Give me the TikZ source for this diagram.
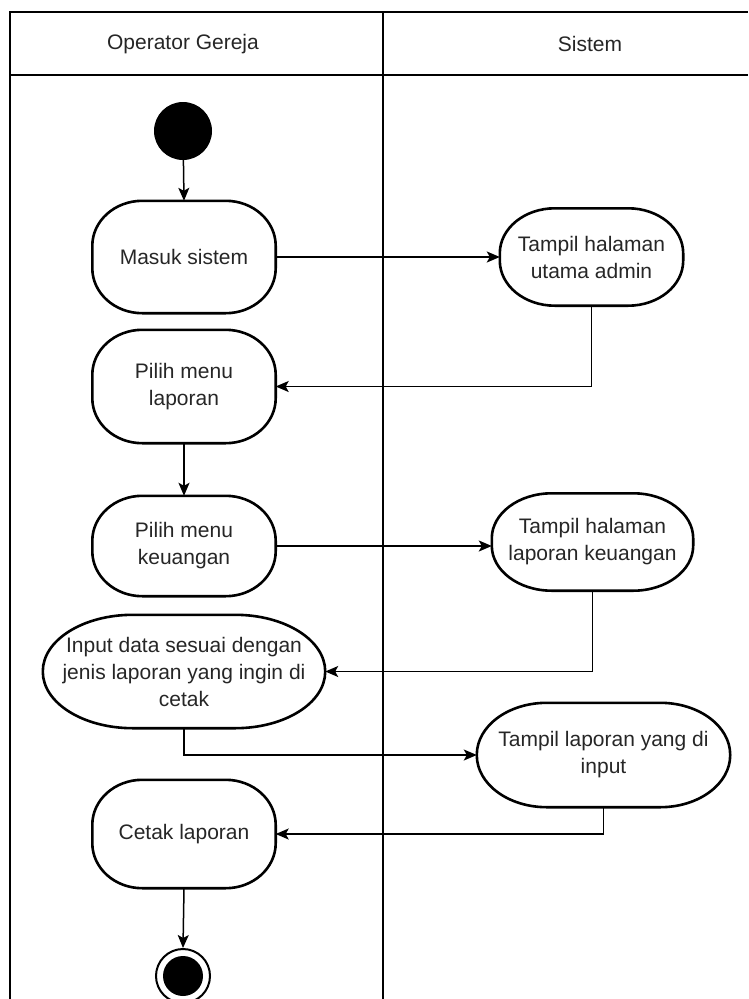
\documentclass[tikz,border=0pt]{standalone}
\usepackage{fontspec}
\setmainfont{Liberation Sans}
\usetikzlibrary{arrows.meta,calc}
\definecolor{txt}{HTML}{262626}
\newcommand\actframe[3]{%
  \draw[actline] ($(#1.north west)+(#2,0)$) -- ($(#1.north east)-(#2,0)$)
    arc[start angle=90,end angle=0,x radius=#2,y radius=#3]
    -- ($(#1.south east)+(0,#3)$)
    arc[start angle=0,end angle=-90,x radius=#2,y radius=#3]
    -- ($(#1.south west)+(#2,0)$)
    arc[start angle=270,end angle=180,x radius=#2,y radius=#3]
    -- ($(#1.north west)-(0,#3)$)
    arc[start angle=180,end angle=90,x radius=#2,y radius=#3] -- cycle;}
\begin{document}
\begin{tikzpicture}[x=1pt,y=1pt,
  lane/.style={line width=1.6pt,draw=black},
  act/.style={inner sep=0pt,align=center,text=txt,font=\fontsize{21}{27}\selectfont},
  actline/.style={line width=2.6pt,draw=black},
  flow/.style={line width=1.5pt,draw=black,-{Stealth[length=13pt,width=11pt,inset=3pt]}},
  hdr/.style={text=txt,font=\fontsize{21}{27}\selectfont}]
\useasboundingbox (0,0) rectangle (748,-999);
% swimlanes
\draw[lane] (10,-999) -- (10,-12) -- (748,-12);
\draw[lane] (10,-75) -- (748,-75);
\draw[lane] (383,-12) -- (383,-999);
\node[hdr] (h1) at (183,-44) {Operator Gereja};
\node[hdr] (h2) at (590,-44) {Sistem};
% start
\node[circle,fill=black,inner sep=0pt,minimum size=58pt] (start) at (183,-131) {};
% activities
\node[act,minimum width=183pt,minimum height=112pt] (ms) at (184,-257) {Masuk sistem};
\actframe{ms}{50pt}{45pt}
\node[act,minimum width=183pt,minimum height=97pt] (tua) at (591.5,-257) {Tampil halaman\\utama admin};
\actframe{tua}{55pt}{45pt}
\node[act,minimum width=183pt,minimum height=113pt] (pml) at (184,-386.5) {Pilih menu\\laporan};
\actframe{pml}{50pt}{45pt}
\node[act,minimum width=183pt,minimum height=100pt] (pmk) at (184,-546) {Pilih menu\\keuangan};
\actframe{pmk}{50pt}{45pt}
\node[act,minimum width=201pt,minimum height=97pt] (tlk) at (592.5,-542) {Tampil halaman\\laporan keuangan};
\actframe{tlk}{60pt}{45pt}
\node[act,minimum width=282pt,minimum height=113pt] (inp) at (184,-671.5) {Input data sesuai dengan\\jenis laporan yang ingin di\\cetak};
\actframe{inp}{90pt}{56.5pt}
\node[act,minimum width=253pt,minimum height=104pt] (tli) at (603.5,-755) {Tampil laporan yang di\\input};
\actframe{tli}{70pt}{52pt}
\node[act,minimum width=183pt,minimum height=108pt] (cl) at (184,-834) {Cetak laporan};
\actframe{cl}{50pt}{45pt}
% end
\node[circle,draw=black,line width=2pt,inner sep=0pt,minimum size=54pt] (end) at (183,-976) {};
\node[circle,fill=black,inner sep=0pt,minimum size=40pt] (endin) at (end.center) {};
% flows
\draw[flow] (start) -- (ms.north);
\draw[flow] (ms.east) -- (tua.west);
\draw[flow] (tua.south) |- (pml.east);
\draw[flow] (pml.south) -- (pmk.north);
\draw[flow] (pmk.east) -- (pmk.east -| tlk.west);
\draw[flow] (tlk.south) |- (inp.east);
\draw[flow] (inp.south) |- (tli.west);
\draw[flow] (tli.south) |- (cl.east);
\draw[flow] (cl.south) -- (end.north);
\end{tikzpicture}
\end{document}
